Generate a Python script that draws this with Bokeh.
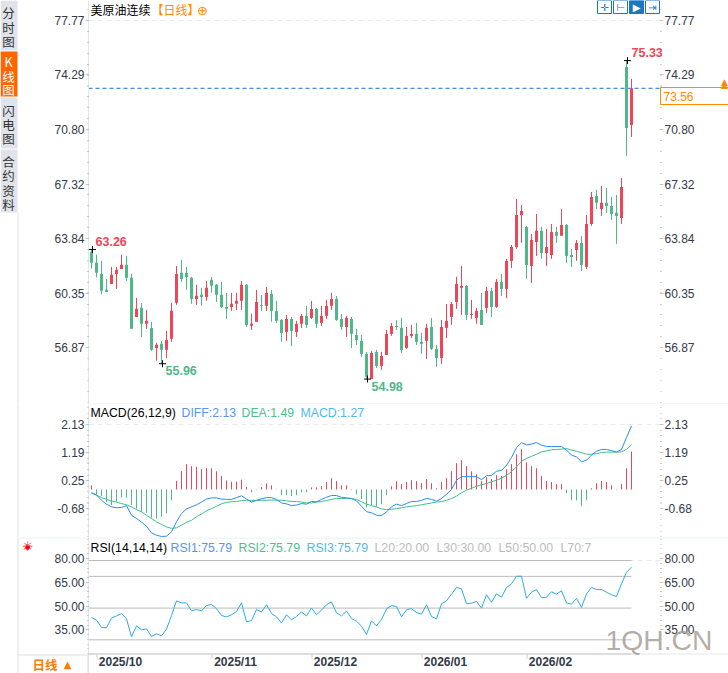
from bokeh.plotting import figure
from bokeh.layouts import column
from bokeh.models import (Range1d, LinearAxis, FixedTicker, Label, BoxAnnotation)
from bokeh.embed import file_html
from bokeh.resources import INLINE

OPEN = [63.11,62.41,61.70,60.68,61.06,61.70,62.02,62.28,61.45,58.95,59.53,58.51,58.25,56.97,57.23,56.85,57.55,59.85,61.77,61.77,
        61.45,60.10,60.36,60.23,61.32,61.00,60.36,59.59,59.59,59.79,59.98,61.00,58.38,58.64,59.72,59.66,60.42,59.34,58.76,57.99,
        58.82,57.99,58.51,59.02,58.89,59.46,58.57,59.02,59.66,60.10,58.82,58.31,58.82,57.80,57.42,56.59,54.99,56.72,55.82,56.52,
        57.87,58.38,58.25,56.97,57.74,57.87,57.36,57.42,58.31,56.91,56.33,58.25,58.95,59.91,60.81,60.93,59.08,58.89,59.40,59.53,
        60.61,59.59,61.19,60.74,62.53,63.42,65.47,64.70,62.21,63.74,64.45,63.04,62.91,64.38,64.13,64.83,62.91,63.23,63.68,62.15,
        64.89,66.68,65.85,66.24,66.04,65.60,65.28,74.92,71.22]
HIGH = [63.26,62.92,62.53,61.38,62.15,62.15,62.92,62.85,61.70,60.17,59.85,59.40,58.64,57.29,57.42,58.06,59.85,62.21,62.60,62.15,
        61.51,61.00,60.81,61.25,61.51,61.06,61.19,60.49,60.49,60.49,61.25,61.06,59.15,60.68,60.36,60.87,60.68,59.98,58.82,59.08,
        58.95,58.70,59.14,59.66,59.97,59.53,59.66,60.04,60.49,60.29,59.14,59.02,58.95,58.19,57.80,56.72,56.78,56.84,56.72,58.12,
        58.57,58.76,58.89,58.31,58.44,58.57,57.93,58.51,58.89,57.16,58.76,59.78,59.91,61.51,62.21,61.00,60.04,59.53,60.48,60.87,
        60.80,61.38,61.70,62.66,63.55,66.49,66.11,64.77,64.25,65.53,64.70,64.57,64.89,64.70,65.85,64.89,63.30,63.87,64.13,65.47,
        66.94,67.07,67.32,67.19,66.62,66.75,67.83,75.33,74.16]
LOW = [62.04,61.47,60.40,60.55,61.06,60.74,62.02,61.25,58.19,58.95,57.68,58.19,56.78,56.14,55.96,56.33,57.36,59.72,61.19,60.68,
       59.79,59.72,59.66,59.98,60.49,59.91,59.53,58.83,59.34,59.40,59.40,58.32,58.12,58.64,59.34,59.34,58.64,58.57,57.36,57.42,
       57.10,57.67,58.25,58.25,58.82,58.25,58.38,58.82,59.40,58.70,58.12,57.67,56.97,57.16,56.40,54.98,54.99,55.69,55.57,56.52,
       57.74,58.12,56.65,56.91,57.61,57.16,56.59,56.27,56.84,55.76,55.95,57.61,58.44,59.46,59.08,58.76,58.82,58.51,58.44,59.21,
       58.95,59.53,60.29,60.16,62.08,63.30,63.68,61.38,61.12,62.85,62.66,62.21,62.66,63.68,64.13,62.40,62.15,62.53,61.89,62.02,
       64.77,65.85,65.40,65.60,65.15,63.62,64.89,69.24,70.45]
CLOSE = [62.41,61.77,60.62,60.55,61.64,61.96,62.28,61.45,58.19,59.47,58.51,58.70,56.85,57.17,56.85,57.48,59.34,61.70,61.38,61.51,
         60.10,60.30,60.23,60.81,60.94,60.36,59.59,59.47,59.79,59.98,61.00,58.44,58.51,59.91,59.66,60.49,59.34,58.70,57.93,58.82,
         58.06,58.51,59.02,58.44,59.46,58.51,59.02,59.66,60.10,58.76,58.31,58.89,57.87,57.48,56.59,55.12,56.65,55.82,56.46,57.87,
         58.38,58.31,56.84,57.74,57.87,57.36,57.23,58.25,56.91,56.33,58.31,58.70,59.78,61.06,60.93,59.08,59.14,59.34,58.44,60.61,
         59.59,61.19,60.74,62.53,63.42,65.47,65.72,62.27,63.87,64.45,63.04,63.42,64.38,64.13,64.83,62.85,62.78,63.68,62.27,64.89,
         66.62,66.24,66.24,66.04,65.53,65.40,67.26,71.02,73.56]

MACD_HIST = [0.14,-0.16,-0.22,-0.42,-0.52,-0.41,-0.27,-0.27,-0.52,-0.64,-0.75,-0.78,-0.94,-0.97,-0.91,-0.80,-0.36,0.29,0.61,0.85,
             0.78,0.76,0.68,0.71,0.71,0.61,0.45,0.30,0.26,0.26,0.33,0.08,-0.09,0.01,0.08,0.21,0.14,0.01,-0.19,-0.19,
             -0.22,-0.19,-0.09,-0.09,0.07,0.07,0.11,0.25,0.38,0.28,0.14,0.14,-0.02,-0.16,-0.32,-0.60,-0.52,-0.58,-0.49,-0.19,
             0.11,0.28,0.18,0.25,0.31,0.28,0.21,0.35,0.21,0.04,0.25,0.38,0.61,0.88,0.98,0.78,0.61,0.51,0.28,0.41,
             0.35,0.48,0.45,0.68,0.85,1.18,1.35,0.91,0.78,0.71,0.45,0.28,0.25,0.18,0.18,-0.12,-0.36,-0.36,-0.56,-0.36,
             0.04,0.21,0.28,0.25,0.14,0.01,0.18,0.71,1.27]
DIFF = [-0.11,-0.18,-0.36,-0.49,-0.58,-0.61,-0.60,-0.54,-0.86,-0.97,-1.09,-1.23,-1.45,-1.53,-1.57,-1.56,-1.42,-1.08,-0.80,-0.65,
        -0.58,-0.51,-0.42,-0.32,-0.28,-0.28,-0.32,-0.33,-0.33,-0.27,-0.21,-0.32,-0.42,-0.36,-0.31,-0.27,-0.27,-0.33,-0.45,-0.48,
        -0.54,-0.52,-0.47,-0.49,-0.40,-0.41,-0.33,-0.26,-0.20,-0.20,-0.26,-0.28,-0.30,-0.38,-0.56,-0.74,-0.78,-0.86,-0.87,-0.75,
        -0.58,-0.49,-0.54,-0.47,-0.40,-0.40,-0.36,-0.30,-0.33,-0.39,-0.30,-0.16,0.00,0.31,0.43,0.43,0.43,0.43,0.33,0.46,
        0.47,0.61,0.64,0.81,1.07,1.40,1.57,1.49,1.52,1.57,1.48,1.44,1.44,1.44,1.44,1.32,1.15,1.09,0.93,0.98,
        1.15,1.28,1.34,1.34,1.30,1.25,1.34,1.74,2.13]
DEA = [-0.11,-0.19,-0.27,-0.33,-0.39,-0.42,-0.47,-0.51,-0.58,-0.67,-0.75,-0.86,-0.97,-1.08,-1.17,-1.25,-1.30,-1.28,-1.19,-1.10,
       -1.03,-0.91,-0.82,-0.71,-0.64,-0.56,-0.48,-0.43,-0.41,-0.40,-0.37,-0.36,-0.37,-0.37,-0.36,-0.36,-0.35,-0.36,-0.36,-0.38,
       -0.40,-0.40,-0.42,-0.45,-0.45,-0.42,-0.40,-0.37,-0.33,-0.30,-0.30,-0.30,-0.31,-0.33,-0.41,-0.49,-0.54,-0.58,-0.65,-0.67,
       -0.66,-0.64,-0.61,-0.58,-0.56,-0.54,-0.51,-0.48,-0.45,-0.42,-0.40,-0.36,-0.30,-0.22,-0.11,-0.02,0.04,0.11,0.16,0.20,
       0.26,0.31,0.38,0.47,0.60,0.76,0.94,1.04,1.11,1.18,1.26,1.29,1.33,1.34,1.35,1.37,1.32,1.28,1.23,1.18,
       1.18,1.20,1.23,1.25,1.25,1.25,1.26,1.34,1.49]
RSI = [44.1,42.4,37.8,37.6,43.7,45.1,46.6,43.2,31.9,38.8,36.3,36.9,32.1,33.8,32.5,36.7,45.3,54.6,53.3,53.3,
       48.3,49.1,48.3,51.6,52.3,49.7,45.3,44.5,45.8,47.9,53.3,41.3,42.2,49.1,47.6,52.1,46.6,44.5,40.7,45.8,
       42.6,44.7,47.6,45.1,50.0,45.8,48.7,52.1,53.9,47.0,45.1,48.1,43.4,41.8,38.6,33.4,42.0,38.8,42.8,49.5,
       51.6,51.0,44.5,48.9,49.7,47.2,46.2,52.1,44.7,43.2,52.7,54.6,58.8,63.0,62.1,52.7,53.1,54.2,50.0,58.4,
       53.7,59.0,56.9,63.0,65.3,70.1,70.1,56.1,60.0,61.7,56.5,56.9,60.3,58.8,60.9,53.3,52.5,56.1,50.4,59.0,
       63.0,61.7,61.7,60.0,58.4,57.3,65.3,72.6,75.79]
IDX = list(range(len(CLOSE)))

PRICE_TICKS = [77.77,74.29,70.80,67.32,63.84,60.35,56.87]
MACD_TICKS = [2.13,1.19,0.25,-0.68]
RSI_TICKS = [80.0,65.0,50.0,35.0]
RSI_LEVELS = [80,70,50,30]
DATE_IDX = [1,24,44,66,87]
DATE_LABELS = ["2025/10","2025/11","2025/12","2026/01","2026/02"]
EXTREME_IDX = [0,14,55,107]
EXTREME_VAL = [63.26,55.96,54.98,75.33]
LAST_PRICE = 73.56

RED, GREEN = "#EE4658", "#4FB888"
ORANGE = "#FF8A00"
NUM = "Liberation Sans"
CJK = "Noto Sans CJK SC"
W = 728
XR = (-18.2, 127.4)          # whole canvas: index i sits at pixel 91 + 5 i
AX_L, AX_R = -0.6, 113.8     # panel edges at pixels 88 and 660

def base(h, yr, axr):
    p = figure(width=W, height=h, output_backend="svg", toolbar_location=None,
               x_range=Range1d(*XR), y_range=Range1d(*yr),
               x_axis_location=None, y_axis_location=None,
               min_border=0, min_border_left=0, min_border_right=0, min_border_top=0, min_border_bottom=0,
               outline_line_color=None, background_fill_color="white", border_fill_color="white")
    p.extra_y_ranges = {"ax": Range1d(*axr)}
    p.grid.visible = False
    return p

def axes(p, ticks, step, fmt="%.2f"):
    minors = []
    for t in ticks:
        for k in range(-5, 6):
            minors.append(round(t + k * step / 5, 4))
    for side, loc, tickc, linec in (("left", AX_L, "#A8D4E8", "#DDE8EE"), ("right", AX_R, "#CCCCCC", None)):
        a = LinearAxis(y_range_name="ax", ticker=FixedTicker(ticks=ticks, minor_ticks=minors), fixed_location=loc,
                       major_label_overrides={t: fmt % t for t in ticks})
        a.major_label_text_font = NUM
        a.major_label_text_font_size = "12px"
        a.major_label_text_color = "#333A48"
        a.major_label_standoff = 1
        a.major_tick_in = 0
        a.major_tick_out = 3
        a.minor_tick_in = 0
        a.minor_tick_out = 1
        a.major_tick_line_color = tickc
        a.minor_tick_line_color = "#BBBBBB"
        a.axis_line_color = linec
        p.add_layout(a, side)

def box(p, l, r, t, b, fill, line=None, alpha=1):
    p.add_layout(BoxAnnotation(left=l, right=r, top=t, bottom=b, level="overlay",
                               left_units="canvas", right_units="canvas",
                               top_units="canvas", bottom_units="canvas",
                               fill_color=fill, fill_alpha=alpha, line_color=line, line_alpha=1 if line else 0))

def lab(p, x, y, text, color="#000000", size=12.3, font=NUM, style="normal", align="left", alpha=1):
    p.add_layout(Label(x=x, y=y, x_units="canvas", y_units="canvas", text=text, text_color=color, level="overlay",
                       text_font=font, text_font_size=f"{size}px", text_font_style=style,
                       text_align=align, text_baseline="middle", text_alpha=alpha))

# ---- price panel ----
p1 = base(404, (53.355, 79.170), (53.233, 79.048))
axes(p1, PRICE_TICKS, 3.48)
p1.line([AX_L, AX_R], [77.77, 77.77], y_range_name="ax", line_color="#E6ECEC", line_dash=[5, 4], line_width=1)
p1.line([AX_L, AX_R], [LAST_PRICE, LAST_PRICE], line_color="#1A6FD4", line_dash=[4, 3], line_width=1)
colors = [RED if c >= o else GREEN for o, c in zip(OPEN, CLOSE)]
p1.segment(IDX, LOW, IDX, HIGH, color=colors, line_width=1)
p1.vbar(IDX, width=0.6, bottom=[min(o, c) for o, c in zip(OPEN, CLOSE)],
        top=[max(o, c) for o, c in zip(OPEN, CLOSE)], fill_color=colors, line_color=None)
p1.scatter([i + 0.2 for i in EXTREME_IDX], EXTREME_VAL, marker="cross", size=7, line_color="#000000", line_width=1)
for i, v, dx, dy, c in zip(EXTREME_IDX, EXTREME_VAL, (4, 4, 5, 5), (8, -7, -7, 8), (RED, GREEN, GREEN, RED)):
    p1.add_layout(Label(x=i, y=v, x_offset=dx, y_offset=dy, text=f"{v:.2f}", text_color=c, level="overlay",
                        text_font=NUM, text_font_size="12.5px", text_font_style="bold", text_baseline="middle"))

# sidebar
for top, bot, col in ((0, 50, "#E1E3EA"), (51, 96, "#FF6600"), (97, 148, "#E1E3EA"), (149, 212, "#E1E3EA")):
    box(p1, 0, 17, top, bot, col)
box(p1, 17, 18, 212, 404, "#DDDDDD")
for chars, y, col in ((["分", "时", "图"], [12, 27, 41], "#333333"), (["K", "线", "图"], [61, 76, 89], "#FFFFFF"),
                      (["闪", "电", "图"], [110, 124, 138], "#333333"), (["合", "约", "资", "料"], [161, 175, 190, 204], "#333333")):
    for ch, yy in zip(chars, y):
        lab(p1, 8, yy, ch, col, 12.5, CJK, align="center")

# title and toolbar
lab(p1, 90, 9, "美原油连续", "#000000", 12, CJK)
lab(p1, 151, 9, "【日线】", ORANGE, 12, CJK)
lab(p1, 202, 10, "⊕", ORANGE, 13, "DejaVu Sans", align="center")
for l, filled, sym in ((597, False, "✛"), (613, False, "⊢"), (629, True, "▶"), (645, False, "⇥")):
    box(p1, l, l + 14, 0, 13, "#1A78C2" if filled else "#FFFFFF", "#1A78C2")
    lab(p1, l + 7, 6.5, sym, "#FFFFFF" if filled else "#1A78C2", 10, "DejaVu Sans", align="center")

# last price box
box(p1, 660, 729, 87, 104, "#FFFFFF", ORANGE)
lab(p1, 663, 96, f"{LAST_PRICE:.2f}", ORANGE, 12)
lab(p1, 724, 81, "▲", ORANGE, 9, "DejaVu Sans", align="center")
lab(p1, 724, 84, "▲", ORANGE, 9, "DejaVu Sans", align="center")
box(p1, 88, 728, 403, 404, "#EEEEEE")

# ---- MACD panel ----
p2 = base(133, (-1.605, 2.843), (-1.649, 2.799))
axes(p2, MACD_TICKS, 0.94)
p2.line([AX_L, AX_R], [2.13, 2.13], y_range_name="ax", line_color="#E6ECEC", line_dash=[5, 4], line_width=1)
p2.segment(IDX, [0] * len(IDX), IDX, MACD_HIST, color=[RED if v >= 0 else GREEN for v in MACD_HIST], line_width=1)
p2.line(IDX, DEA, line_color="#3DBF8A", line_width=1)
p2.line(IDX, DIFF, line_color="#2B8CF0", line_width=1)
box(p2, 17, 18, 0, 133, "#DDDDDD")
lab(p2, 90, 8.5, "MACD(26,12,9)", "#000000")
lab(p2, 181, 8.5, "DIFF:2.13", "#5A95F0")
lab(p2, 241, 8.5, "DEA:1.49", "#4CC08F")
lab(p2, 300, 8.5, "MACD:1.27", "#4DBBF0")

# ---- RSI panel ----
p3 = base(136, (8.79, 94.49), (7.53, 93.23))
axes(p3, RSI_TICKS, 15)
date_ax = LinearAxis(x_range_name="dates", ticker=FixedTicker(ticks=DATE_IDX), fixed_location=21.4,
                     major_label_overrides=dict(zip(DATE_IDX, DATE_LABELS)))
p3.extra_x_ranges = {"dates": Range1d(XR[0] - 4.8, XR[1] - 4.8)}
date_ax.major_tick_line_color = None
date_ax.minor_tick_line_color = None
date_ax.major_tick_out = 0
date_ax.minor_tick_out = 0
date_ax.axis_line_color = None
date_ax.major_label_text_font = NUM
date_ax.major_label_text_font_size = "12px"
date_ax.major_label_text_font_style = "bold"
date_ax.major_label_text_color = "#333A48"
date_ax.major_label_standoff = 2
p3.add_layout(date_ax, "below")
p3.line([AX_L, AX_R], [80, 80], line_color="#E6E6E6", line_dash=[5, 4], line_width=1)
p3.segment([AX_L] * len(RSI_LEVELS), RSI_LEVELS, [108] * len(RSI_LEVELS), RSI_LEVELS, line_color="#BBBBBB", line_width=1)
p3.line(IDX, RSI, line_color="#29AEE3", line_width=1)
box(p3, 18, 728, 0, 1, "#E6EEF0")
box(p3, 17, 18, 0, 136, "#DDDDDD")
box(p3, 18, 87, 117, 118, "#DDDDDD")
box(p3, 87, 88, 117, 136, "#DDDDDD")
box(p3, 88, 631, 116, 117, "#BBBBBB")
box(p3, 631, 728, 116, 117, "#E4E8EA")
for i in DATE_IDX:
    x = 91 + 5 * i
    box(p3, x, x + 1, 117, 121, "#CCCCCC")
lab(p3, 27, 8.5, "☼", "#EE0000", 13, "DejaVu Sans", align="center")
lab(p3, 27, 8.5, "●", "#EE0000", 6, "DejaVu Sans", align="center")
lab(p3, 90, 10, "RSI(14,14,14)", "#000000")
lab(p3, 170, 10, "RSI1:75.79", "#5A95F0")
lab(p3, 238, 10, "RSI2:75.79", "#4CC08F")
lab(p3, 306, 10, "RSI3:75.79", "#4DBBF0")
lab(p3, 374, 10, "L20:20.00", "#BBBBBB")
lab(p3, 436, 10, "L30:30.00", "#BBBBBB")
lab(p3, 498, 10, "L50:50.00", "#BBBBBB")
lab(p3, 560, 10, "L70:7", "#BBBBBB")
lab(p3, 32, 126.8, "日线", "#FF7A00", 12.5, CJK, "bold")
lab(p3, 67, 127, "▲", "#FF7A00", 10, "DejaVu Sans", align="center")
lab(p3, 605, 102, "1QH.CN", "#A89E96", 28.3, alpha=0.85)

page = column(p1, p2, p3, spacing=0)
open("out.html", "w").write(file_html(page, INLINE))
